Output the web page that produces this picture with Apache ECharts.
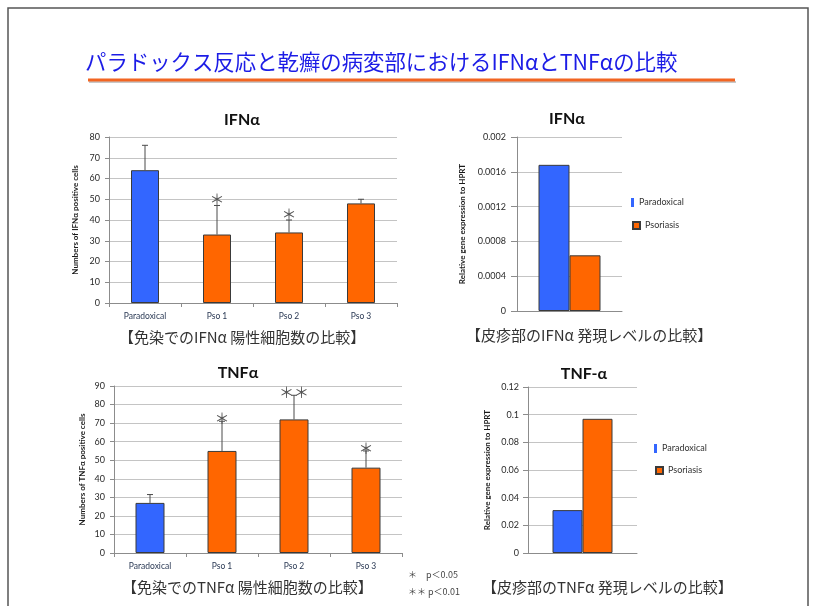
<!DOCTYPE html>
<html>
<head>
<meta charset="utf-8">
<script src="https://cdn.jsdelivr.net/npm/echarts@6/dist/echarts.min.js"></script>
<style>html,body{margin:0;padding:0;background:#fff;}#c{width:819px;height:606px;}</style>
</head>
<body>
<div id="c"></div>
<script>
// ---- data ----
const categories = ['Paradoxical', 'Pso 1', 'Pso 2', 'Pso 3'];
const ifnCells = [64, 33, 34, 48];
const ifnCellsErrTop = [76, 47, 40, 50];
const ifnSig = ['', '＊', '＊', ''];
const tnfCells = [27, 55, 72, 46];
const tnfCellsErrTop = [31.5, 71, 85, 55];
const tnfSig = ['', '＊', '＊＊', '＊'];
const groups = ['Paradoxical', 'Psoriasis'];
const ifnExpr = [0.00168, 0.00064];
const tnfExpr = [0.031, 0.097];
const ifnCellsAxis = {max: 80, interval: 10};
const tnfCellsAxis = {max: 90, interval: 10};
const ifnExprAxis = {max: 0.002, interval: 0.0004};
const tnfExprAxis = {max: 0.12, interval: 0.02};

// ---- styles ----
const BLUE = '#3366ff';
const ORANGE = '#ff6600';
const LAT = 'Lato, "Noto Sans", "Noto Sans CJK JP", sans-serif';
const JP = '"Noto Sans CJK JP", sans-serif';

const chart = echarts.init(document.getElementById('c'), null, {renderer: 'canvas'});

function fmtNum(v) { return String(parseFloat(Number(v).toFixed(6))); }

function catX(gi) {
  return {
    type: 'category', gridIndex: gi, data: categories,
    axisLine: {lineStyle: {color: '#8c8c8c', width: 1}},
    axisTick: {show: true, alignWithLabel: false, length: 4, lineStyle: {color: '#8c8c8c'}},
    axisLabel: {fontSize: 8.5, color: '#2b3a55', fontFamily: LAT, margin: 9}
  };
}
function valY(gi, ax, name, gap, labelMargin, tickLen) {
  return {
    type: 'value', gridIndex: gi, min: 0, max: ax.max, interval: ax.interval,
    name: name, nameLocation: 'middle', nameGap: gap, nameRotate: 90,
    nameTextStyle: {fontSize: 8, fontWeight: 'bold', color: '#1a1a1a', fontFamily: LAT},
    axisLine: {show: true, lineStyle: {color: '#8c8c8c'}},
    axisTick: {show: true, length: tickLen, lineStyle: {color: '#8c8c8c'}},
    axisLabel: {fontSize: 9, color: '#2a2a2a', fontFamily: LAT, margin: labelMargin, formatter: fmtNum},
    splitLine: {lineStyle: {color: '#c4c4c4', width: 1}}
  };
}
function cellBars(gi, values, width) {
  return {
    type: 'bar', xAxisIndex: gi, yAxisIndex: gi, data: values, barWidth: width,
    itemStyle: {color: p => p.dataIndex === 0 ? BLUE : ORANGE, borderColor: '#3a3a3a', borderWidth: 1},
    z: 2
  };
}
function errBars(gi, values, tops, sig, sigOffset) {
  return {
    type: 'custom', xAxisIndex: gi, yAxisIndex: gi, z: 5,
    data: values.map((v, i) => [i, v, tops[i]]),
    renderItem: function (params, api) {
      const i = api.value(0);
      const lo = api.coord([i, api.value(1)]);
      const hi = api.coord([i, api.value(2)]);
      const children = [
        {type: 'line', shape: {x1: lo[0], y1: lo[1], x2: hi[0], y2: hi[1]}, style: {stroke: '#4a4a4a', lineWidth: 1}},
        {type: 'line', shape: {x1: hi[0] - 3, y1: hi[1], x2: hi[0] + 3, y2: hi[1]}, style: {stroke: '#4a4a4a', lineWidth: 1}}
      ];
      const s = sig[params.dataIndex];
      if (s) {
        children.push({type: 'text', style: {text: s, x: hi[0], y: hi[1] - sigOffset, align: 'center', verticalAlign: 'middle',
          fontSize: 15, fill: '#555', fontFamily: JP}});
      }
      return {type: 'group', children: children};
    }
  };
}
function exprBars(gi, values, width) {
  return groups.map((g, k) => ({
    type: 'bar', name: g, xAxisIndex: gi, yAxisIndex: gi, data: [values[k]], barWidth: width, barGap: '0%',
    itemStyle: {color: k === 0 ? BLUE : ORANGE, borderColor: '#3a3a3a', borderWidth: 1}
  }));
}
function legendItem(name, left, top, w, h, border) {
  return {
    data: [name], left: left, top: top, orient: 'vertical', icon: 'rect', itemWidth: w, itemHeight: h,
    selectedMode: false, padding: 0, itemGap: 0,
    itemStyle: border ? {} : {borderWidth: 0},
    textStyle: {fontSize: 9, color: '#333', fontFamily: LAT}
  };
}
function textG(text, x, y, size, opts) {
  return {type: 'text', x: x, y: y, style: Object.assign({text: text, fontSize: size, fontFamily: JP,
    fill: '#333', align: 'left', verticalAlign: 'middle'}, opts || {})};
}

const option = {
  animation: false,
  backgroundColor: '#ffffff',
  grid: [
    {left: 109, top: 137, width: 288, height: 166},
    {left: 517, top: 137, width: 105, height: 174},
    {left: 114, top: 386, width: 288, height: 167},
    {left: 528, top: 387, width: 109, height: 166}
  ],
  xAxis: [
    catX(0),
    {type: 'category', gridIndex: 1, data: [''], axisLine: {lineStyle: {color: '#8c8c8c'}}, axisTick: {show: false}, axisLabel: {show: false}},
    catX(2),
    {type: 'category', gridIndex: 3, data: [''], axisLine: {lineStyle: {color: '#8c8c8c'}}, axisTick: {show: false}, axisLabel: {show: false}}
  ],
  yAxis: [
    valY(0, ifnCellsAxis, 'Numbers of IFNα positive cells', 30, 9, 4),
    valY(1, ifnExprAxis, 'Relative gene expression to HPRT', 51, 11, 6),
    valY(2, tnfCellsAxis, 'Numbers of TNFα positive cells', 28, 9, 4),
    valY(3, tnfExprAxis, 'Relative gene expression to HPRT', 37, 9, 5)
  ],
  legend: [
    legendItem('Paradoxical', 631, 198, 3, 9, false),
    legendItem('Psoriasis', 632, 221, 7, 7, true),
    legendItem('Paradoxical', 654, 444, 3, 9, false),
    legendItem('Psoriasis', 655, 466, 7, 7, true)
  ],
  series: [
    cellBars(0, ifnCells, 28),
    errBars(0, ifnCells, ifnCellsErrTop, ifnSig, 6),
    ...exprBars(1, ifnExpr, 31),
    cellBars(2, tnfCells, 29),
    errBars(2, tnfCells, tnfCellsErrTop, tnfSig, 3),
    ...exprBars(3, tnfExpr, 30)
  ],
  graphic: [
    {type: 'rect', shape: {x: 8, y: 8, width: 800, height: 640}, style: {fill: 'none', stroke: '#555', lineWidth: 1.5}},
    textG('パラドックス反応と乾癬の病変部におけるIFNαとTNFαの比較', 85, 62, 21.4, {fill: '#1c1ce6'}),
    {type: 'rect', shape: {x: 89, y: 81, width: 647, height: 2}, style: {fill: '#c8c8c8'}},
    {type: 'rect', shape: {x: 88, y: 78.5, width: 647, height: 3}, style: {fill: '#f26522'}},
    textG('IFNα', 242, 120, 16, {align: 'center', fontWeight: 'bold', fill: '#111', fontFamily: LAT}),
    textG('IFNα', 567, 119, 16, {align: 'center', fontWeight: 'bold', fill: '#111', fontFamily: LAT}),
    textG('TNFα', 238, 373, 16, {align: 'center', fontWeight: 'bold', fill: '#111', fontFamily: LAT}),
    textG('TNF-α', 584, 374, 16, {align: 'center', fontWeight: 'bold', fill: '#111', fontFamily: LAT}),
    textG('【免染でのIFNα 陽性細胞数の比較】', 119, 337, 15),
    textG('【皮疹部のIFNα 発現レベルの比較】', 466, 335, 15),
    textG('【免染でのTNFα 陽性細胞数の比較】', 122, 587, 15),
    textG('【皮疹部のTNFα 発現レベルの比較】', 482, 587, 15),
    textG('＊　p＜0.05', 408, 575, 9, {fill: '#444'}),
    textG('＊＊ p＜0.01', 408, 592, 9, {fill: '#444'})
  ]
};
chart.setOption(option);
</script>
</body>
</html>
